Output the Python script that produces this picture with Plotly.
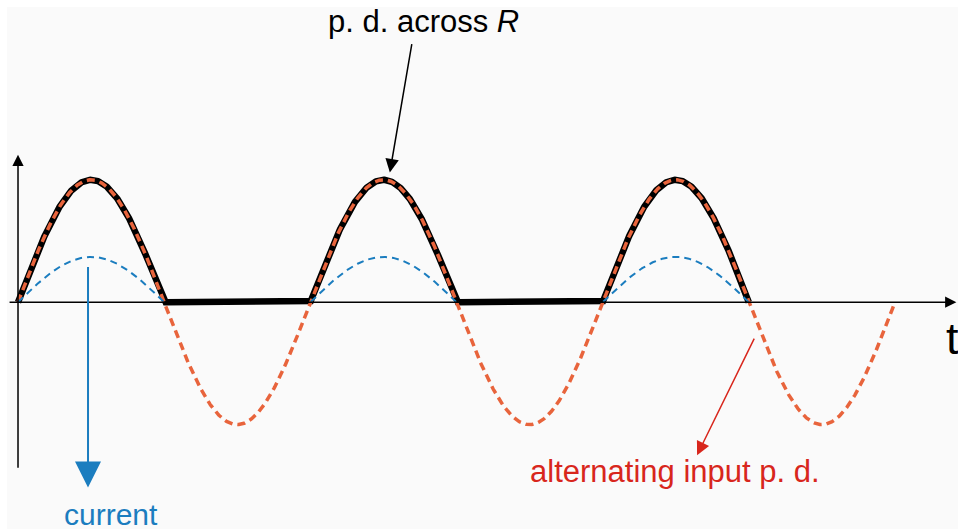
import numpy as np
import plotly.graph_objects as go

# Waveform parameters (time in periods, p.d. in units of the input peak)
cycles = 3
input_peak = 1.0
current_peak = 0.37
rectified_end = 2.5          # output trace stops after the third positive half-cycle

# Annotation labels
label_output = "p. d. across <i>R</i>"
label_current = "current"
label_input = "alternating input p. d."
label_time = "t"

t = np.linspace(0, cycles, 1801)
v_in = input_peak * np.sin(2 * np.pi * t)

# half-wave rectified output
mask_out = t <= rectified_end
t_out = t[mask_out]
v_out = np.clip(v_in[mask_out], 0, None)

# current only flows on the positive half-cycles
v_cur = current_peak * np.sin(2 * np.pi * t)
v_cur = np.where((v_cur >= 0) & (t <= rectified_end), v_cur, None)

BLACK = "#000000"
ORANGE = "#e8643c"
BLUE = "#1b7dbf"
RED = "#d8261c"
FONT = "Liberation Sans, Arial, sans-serif"

fig = go.Figure()
fig.add_trace(go.Scatter(x=t_out, y=v_out, mode="lines",
                         line=dict(color=BLACK, width=6.5), hoverinfo="skip"))
fig.add_trace(go.Scatter(x=t, y=v_in, mode="lines",
                         line=dict(color=ORANGE, width=3.5, dash="8px,5px"), hoverinfo="skip"))
fig.add_trace(go.Scatter(x=t, y=v_cur, mode="lines", connectgaps=False,
                         line=dict(color=BLUE, width=2, dash="7px,5px"), hoverinfo="skip"))

x_range = [-0.0616, 3.2156]
y_range = [-1.853, 2.469]

annotations = [
    # time axis with arrow
    dict(x=3.21, y=0, ax=-0.034, ay=0, xref="x", yref="y", axref="x", ayref="y",
         showarrow=True, arrowhead=2, arrowsize=1.5, arrowwidth=1.5, arrowcolor=BLACK,
         standoff=0, text=""),
    # p.d. axis with arrow
    dict(x=0, y=1.205, ax=0, ay=-1.365, xref="x", yref="y", axref="x", ayref="y",
         showarrow=True, arrowhead=2, arrowsize=1.5, arrowwidth=1.5, arrowcolor=BLACK,
         standoff=0, text=""),
    # pointer to output trace
    dict(x=1.272, y=1.06, ax=1.348, ay=2.12, xref="x", yref="y", axref="x", ayref="y",
         showarrow=True, arrowhead=2, arrowsize=1.8, arrowwidth=1.5, arrowcolor=BLACK,
         standoff=0, text=""),
    # current arrow
    dict(x=0.2395, y=-1.513, ax=0.2395, ay=0.30, xref="x", yref="y", axref="x", ayref="y",
         showarrow=True, arrowhead=2, arrowsize=2.6, arrowwidth=2, arrowcolor=BLUE,
         standoff=0, text=""),
    # pointer to input p.d.
    dict(x=2.323, y=-1.25, ax=2.521, ay=-0.285, xref="x", yref="y", axref="x", ayref="y",
         showarrow=True, arrowhead=2, arrowsize=1.8, arrowwidth=1.5, arrowcolor=RED,
         standoff=0, text=""),
    dict(x=1.388, y=2.29, xref="x", yref="y", text=label_output, showarrow=False,
         font=dict(family=FONT, size=31, color=BLACK)),
    dict(x=0.318, y=-1.735, xref="x", yref="y", text=label_current, showarrow=False,
         font=dict(family=FONT, size=30, color=BLUE)),
    dict(x=2.248, y=-1.38, xref="x", yref="y", text=label_input, showarrow=False,
         font=dict(family=FONT, size=31, color=RED)),
    dict(x=3.166, y=-0.30, xref="x", yref="y", text=label_time, showarrow=False,
         xanchor="left", font=dict(family=FONT, size=45, color=BLACK)),
]

# light panel inset from the white top and left edges
shapes = [dict(type="rect", xref="paper", yref="paper", layer="below",
               x0=7 / 958, x1=1, y0=0, y1=1 - 7 / 529,
               line=dict(width=0), fillcolor="#fafafa")]

fig.update_layout(
    width=958, height=529,
    margin=dict(l=0, r=0, t=0, b=0),
    paper_bgcolor="#ffffff", plot_bgcolor="rgba(0,0,0,0)",
    showlegend=False,
    xaxis=dict(range=x_range, visible=False, fixedrange=True),
    yaxis=dict(range=y_range, visible=False, fixedrange=True),
    annotations=annotations,
    shapes=shapes,
)

fig.write_html("out.html")
